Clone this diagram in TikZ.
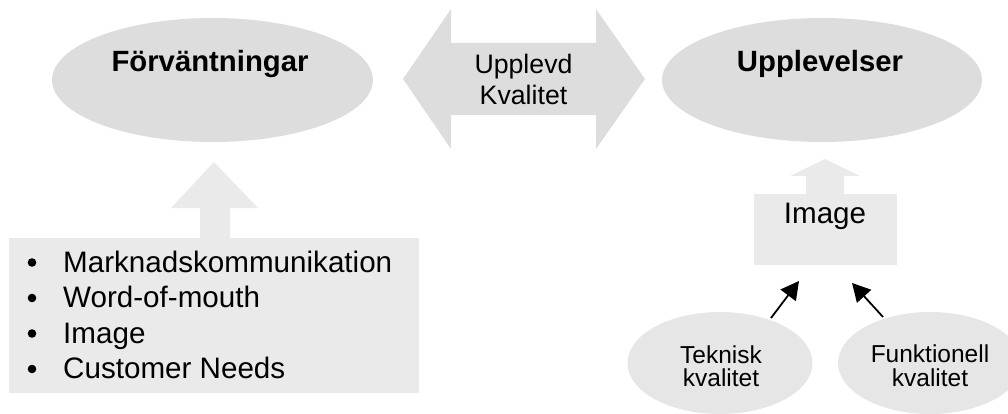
\documentclass[tikz,border=0pt]{standalone}
\usepackage{fontspec}
\setmainfont{Liberation Sans}
\usetikzlibrary{arrows.meta,shapes.geometric}
\definecolor{darkfill}{HTML}{DDDDDD}
\definecolor{lightfill}{HTML}{EAEAEA}
\definecolor{ovalfill}{HTML}{E6E6E6}
\tikzset{
  bigoval/.style={ellipse, fill=darkfill, inner sep=0pt},
  smalloval/.style={ellipse, fill=ovalfill, inner sep=0pt, minimum width=185pt, minimum height=102pt},
  title/.style={font=\bfseries\fontsize{29.3}{35}\selectfont, anchor=base, inner sep=0pt},
  bodytext/.style={font=\fontsize{29.6}{35}\selectfont, inner sep=0pt},
  midtext/.style={font=\fontsize{26.7}{31}\selectfont, anchor=base, inner sep=0pt},
  smalltext/.style={font=\fontsize{24.5}{24}\selectfont, anchor=base, inner sep=0pt},
  feed/.style={line width=1.8pt, -{Triangle[length=18pt, width=19pt]}},
}
\begin{document}
\begin{tikzpicture}[x=1pt, y=-1pt]
\useasboundingbox (0,0) rectangle (1008,414);
\clip (0,0) rectangle (1008,414);

% main ovals
\node[bigoval, minimum width=321pt, minimum height=124pt] (expect) at (212.5,80) {};
\node[title] (expectlabel) at (210,72) {Förväntningar};
\node[bigoval, minimum width=320pt, minimum height=124pt] (exper) at (822,80) {};
\node[title] (experlabel) at (820,72) {Upplevelser};

% double-headed block arrow between the ovals
\fill[darkfill] (403,79) -- (451,9) -- (451,43) -- (596,43) -- (596,9) -- (645,79)
  -- (596,149) -- (596,115) -- (451,115) -- (451,149) -- cycle;
\node[midtext] (quality1) at (523.5,74) {Upplevd};
\node[midtext] (quality2) at (523.5,105) {Kvalitet};

% left: bullet list box with upward block arrow
\fill[lightfill] (214,162) -- (258,208) -- (230,208) -- (230,240) -- (200,240) -- (200,208) -- (171,208) -- cycle;
\fill[lightfill] (9,238) rectangle (419,393);
\foreach \yy/\txt [count=\i] in {272/Marknadskommunikation, 307.5/Word-of-mouth, 343/Image, 378.5/Customer Needs} {
  \fill[black] (32,\yy-9.5) circle (4.3);
  \node[bodytext, anchor=base west] (item\i) at (63,\yy) {\txt};
}

% right: image box with upward block arrow
\fill[lightfill] (825,159) -- (860,176) -- (844,176) -- (844,196) -- (806,196) -- (806,176) -- (790,176) -- cycle;
\fill[lightfill] (754,194) rectangle (897,265);
\node[bodytext, anchor=base] (image) at (825,223) {Image};

% quality ovals feeding the image
\node[smalloval] (tech) at (720,363) {};
\node[smalltext] (techa) at (721,363) {Teknisk};
\node[smalltext] (techb) at (721,386) {kvalitet};
\node[smalloval, minimum width=184pt] (func) at (930,363) {};
\node[smalltext] (funca) at (930,362) {Funktionell};
\node[smalltext] (funcb) at (930,386) {kvalitet};

\coordinate (techstart) at (771,318);
\coordinate (techend) at (799,281);
\coordinate (funcstart) at (883,317);
\coordinate (funcend) at (852,283);
\draw[feed] (techstart) -- (techend);
\draw[feed] (funcstart) -- (funcend);
\end{tikzpicture}
\end{document}
